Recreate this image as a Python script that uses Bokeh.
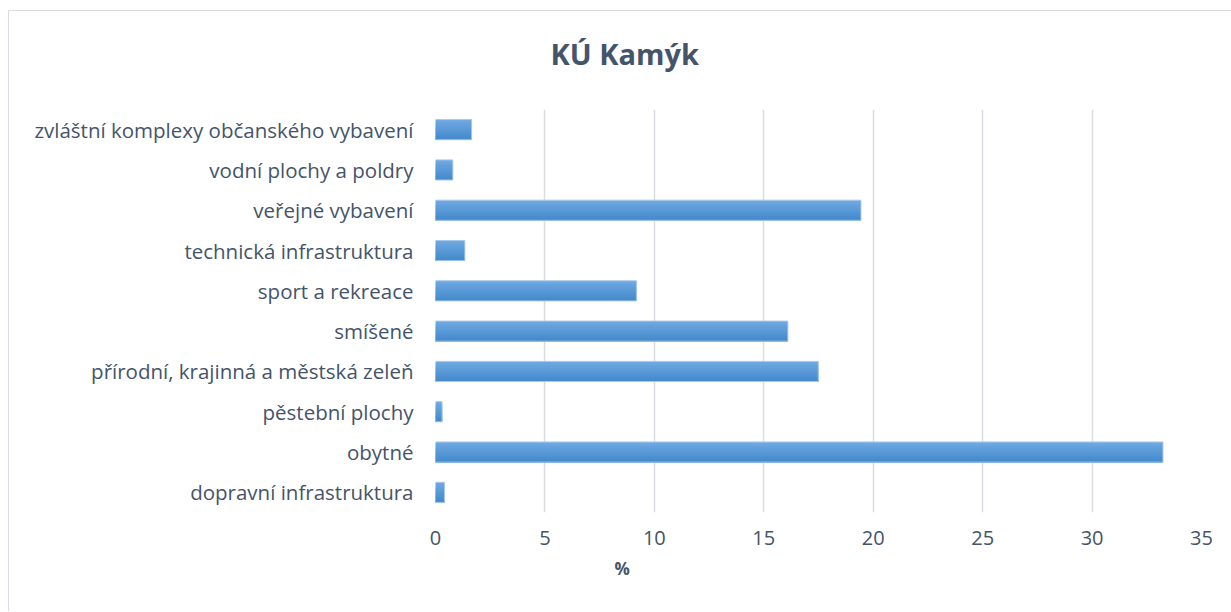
from bokeh.plotting import figure
from bokeh.models import FactorRange, Range1d, ColumnDataSource, FixedTicker, Title
from bokeh.transform import dodge
from bokeh.embed import file_html
from bokeh.resources import INLINE

categories = [
    "dopravní infrastruktura",
    "obytné",
    "pěstební plochy",
    "přírodní, krajinná a městská zeleň",
    "smíšené",
    "sport a rekreace",
    "technická infrastruktura",
    "veřejné vybavení",
    "vodní plochy a poldry",
    "zvláštní komplexy občanského vybavení",
]
values = [0.41, 33.24, 0.30, 17.49, 16.10, 9.18, 1.34, 19.44, 0.79, 1.65]
x_ticks = [0, 5, 10, 15, 20, 25, 30, 35]
title_text = "KÚ Kamýk"
x_title = "%"

FONT = "Open Sans"
TXT = "#44546A"

src = ColumnDataSource(dict(cat=categories, val=values))

p = figure(
    width=1223, height=601,
    y_range=FactorRange(factors=categories),
    x_range=Range1d(0, 35),
    output_backend="svg", toolbar_location=None, title=None,
    min_border_left=426, min_border_right=31, min_border_top=98, min_border_bottom=100,
)
p.styles = {"border-left": "1px solid #d9dce2", "border-top": "1px solid #d9dce2",
            "margin-left": "8px", "margin-top": "10px"}
p.outline_line_color = None
p.background_fill_color = "white"
p.border_fill_color = "white"

# gradient bars: strips painted top to bottom, each reaching to the bar bottom
bar_h = 0.5
n = 10
top = (0x6D, 0xA8, 0xE0)
bot = (0x45, 0x8A, 0xCC)
sh = bar_h / n
for i in range(n):
    t = i / (n - 1)
    c = tuple(int(round(top[k] + (bot[k] - top[k]) * t)) for k in range(3))
    col = "#%02x%02x%02x" % c
    p.hbar(y=dodge("cat", -i * sh / 2, range=p.y_range), right="val", left=0,
           height=bar_h - i * sh, source=src, fill_color=col, line_color=None)
p.hbar(y="cat", right="val", left=0, height=bar_h, source=src,
       fill_color=None, line_color="#a9c9eb", line_width=1)

p.xaxis.ticker = FixedTicker(ticks=x_ticks)
p.xgrid.ticker = FixedTicker(ticks=x_ticks)
p.xgrid.grid_line_color = "#d9dde3"
p.xgrid.grid_line_width = 1.5
p.ygrid.grid_line_color = None

for ax in (p.xaxis[0], p.yaxis[0]):
    ax.axis_line_color = None
    ax.major_tick_line_color = None
    ax.minor_tick_line_color = None
    ax.major_tick_out = 0
    ax.major_tick_in = 0
    ax.major_label_text_font = FONT
    ax.major_label_text_color = TXT

p.yaxis.major_label_text_font_size = "20.5px"
p.xaxis.major_label_text_font_size = "20px"
p.yaxis.major_label_standoff = 22
p.xaxis.major_label_standoff = 18

# invisible spacer next to the frame, then the chart title above it
p.add_layout(Title(text=".", text_font_size="10px", text_color="white", standoff=25), "above")
p.add_layout(Title(text=title_text, text_font=FONT, text_font_style="bold",
                   text_font_size="29px", text_color=TXT, align="left", offset=115,
                   vertical_align="top", standoff=0), "above")
p.add_layout(Title(text=x_title, text_font=FONT, text_font_style="bold",
                   text_font_size="17px", text_color=TXT, align="left", offset=179,
                   vertical_align="top", standoff=18), "below")

open("out.html", "w").write(file_html(p, INLINE))
